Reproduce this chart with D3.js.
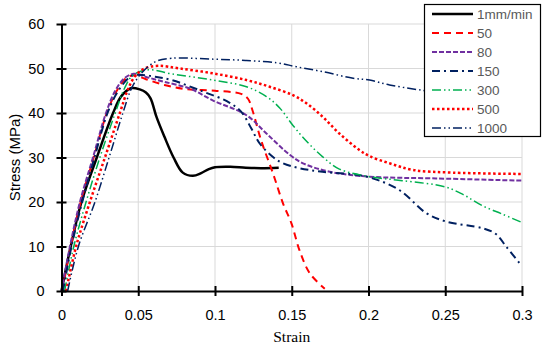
<!DOCTYPE html>
<html>
<head>
<meta charset="utf-8">
<script src="https://cdn.jsdelivr.net/npm/d3@7"></script>
<style>
  body { margin: 0; background: #fff; }
  svg { display: block; }
</style>
</head>
<body>
<svg id="chart" width="550" height="347"></svg>
<script>
// strain / stress pairs
const s1 = [[0,0],[0.006,10],[0.013,20],[0.023,30],[0.0336,40],[0.039,43.8],[0.0457,45.6],[0.051,45.3],[0.055,44.6],[0.058,43.3],[0.062,39],[0.067,34.7],[0.073,30],[0.079,26.6],[0.0856,25.9],[0.091,26.5],[0.096,27.4],[0.1,27.8],[0.11,27.9],[0.12,27.7],[0.13,27.6],[0.1415,27.7]];
const s50 = [[0.0005,0],[0.006,10],[0.0125,20],[0.021,30],[0.0295,40],[0.036,45],[0.042,47.8],[0.047,48.5],[0.055,47.6],[0.067,46.3],[0.08,45.4],[0.1,45],[0.117,44.3],[0.1215,43.2],[0.1245,40.5],[0.13,33.9],[0.1378,26.4],[0.1443,19.7],[0.1498,15.2],[0.155,9.2],[0.1617,4],[0.1715,0.5]];
const s80 = [[0,0],[0.0055,10],[0.012,20],[0.0205,30],[0.029,40],[0.035,45],[0.041,47.8],[0.047,48.8],[0.056,48],[0.067,47],[0.0836,45.5],[0.0988,42.8],[0.1205,39.5],[0.1335,35.4],[0.1487,30.6],[0.1573,28.7],[0.1747,26.8],[0.2007,25.7],[0.244,25.3],[0.3,24.8]];
const s150 = [[0.001,0],[0.0065,10],[0.0135,20],[0.0215,30],[0.03,40],[0.037,45],[0.045,48.2],[0.05,48.6],[0.06,48.2],[0.0717,47.4],[0.0923,44.8],[0.108,42.6],[0.117,40.3],[0.1237,36.5],[0.129,33.2],[0.1378,30.1],[0.1443,28.7],[0.155,27.6],[0.17,26.8],[0.1986,25.7],[0.22,22.7],[0.2376,17.5],[0.2506,15.6],[0.2744,14.1],[0.283,12.8],[0.2897,10],[0.2994,5.8]];
const s300 = [[0.002,0],[0.008,10],[0.016,20],[0.025,30],[0.035,40],[0.041,45.5],[0.0466,48.5],[0.0565,49.7],[0.0717,48.8],[0.0988,47.4],[0.1205,45.9],[0.1335,43.7],[0.142,41.2],[0.1508,37.2],[0.1595,33.7],[0.17,30.2],[0.181,27.4],[0.2007,25.7],[0.222,24.8],[0.25,23.4],[0.262,21.6],[0.274,19.2],[0.287,17.3],[0.3,15.4]];
const s500 = [[0.003,0],[0.0095,10],[0.0185,20],[0.0283,30],[0.038,40],[0.0435,45.5],[0.048,48.3],[0.054,50],[0.063,50.6],[0.0771,50],[0.0988,48.9],[0.1205,47.4],[0.1356,45.9],[0.1508,44],[0.1595,42.2],[0.17,39.2],[0.181,35.4],[0.194,31.7],[0.2007,30.3],[0.2137,28.7],[0.229,27.2],[0.255,26.6],[0.3,26.3]];
const s1000 = [[0.004,0],[0.011,10],[0.0218,20],[0.031,30],[0.04,40],[0.0457,45.6],[0.052,48.9],[0.061,51.5],[0.0717,52.3],[0.0988,52.1],[0.1205,51.8],[0.14,51.3],[0.153,50.4],[0.17,49.3],[0.19,47.8],[0.2007,47.4],[0.2137,46.3],[0.233,45.2],[0.26,44],[0.3,42.5]];

const seriesNames = ["1mm/min","50","80","150","300","500","1000"];
const seriesData = [s1, s50, s80, s150, s300, s500, s1000];
const xTicks = [0,0.05,0.1,0.15,0.2,0.25,0.3];
const yTicks = [0,10,20,30,40,50,60];

const styles = [
  {color:"#000000", w:2.5, dash:null},
  {color:"#FF0000", w:2, dash:"7,5"},
  {color:"#7030A0", w:2, dash:"5,2"},
  {color:"#002060", w:2, dash:"8,4,2,4"},
  {color:"#00B050", w:1.5, dash:"9,3,1.5,3,1.5,3"},
  {color:"#FF0000", w:2.5, dash:"2.5,2.5"},
  {color:"#002060", w:1.5, dash:"9,3,1.5,3,1.5,3"}
];

const svg = d3.select("#chart");
const x = d3.scaleLinear().domain([0,0.3]).range([61.5,522]);
const y = d3.scaleLinear().domain([0,60]).range([291,24]);

// grid
svg.append("g").selectAll("line").data(yTicks.slice(1)).enter().append("line")
  .attr("x1", x(0)).attr("x2", x(0.3))
  .attr("y1", d => y(d)).attr("y2", d => y(d))
  .attr("stroke", "#d9d9d9").attr("stroke-width", 1);
svg.append("g").selectAll("line").data(xTicks.slice(1)).enter().append("line")
  .attr("x1", d => x(d)).attr("x2", d => x(d))
  .attr("y1", y(0)).attr("y2", y(60))
  .attr("stroke", "#d9d9d9").attr("stroke-width", 1);

// curves
const line = d3.line().x(d => x(d[0])).y(d => y(d[1])).curve(d3.curveCatmullRom.alpha(0.5));
svg.append("g").selectAll("path").data(seriesData).enter().append("path")
  .attr("d", line)
  .attr("fill", "none")
  .attr("stroke", (d,i) => styles[i].color)
  .attr("stroke-width", (d,i) => styles[i].w)
  .attr("stroke-dasharray", (d,i) => styles[i].dash);

// axes
const yAxis = svg.append("g").attr("transform", `translate(${x(0)},0)`)
  .call(d3.axisLeft(y).tickValues(yTicks).tickSizeInner(5).tickSizeOuter(0).tickPadding(12));
const xAxis = svg.append("g").attr("transform", `translate(0,${y(0)})`)
  .call(d3.axisBottom(x).tickValues(xTicks).tickFormat(d3.format("")).tickSizeInner(5).tickSizeOuter(0).tickPadding(14));
[yAxis, xAxis].forEach(a => {
  a.select(".domain").attr("stroke", "#000").attr("stroke-width", 2);
  a.selectAll(".tick line").attr("stroke", "#000").attr("stroke-width", 2);
  a.selectAll(".tick text").attr("fill", "#000")
    .style("font-family", "'Liberation Sans', Arial, sans-serif").style("font-size", "14.5px");
});
// ticks cross the axis
yAxis.selectAll(".tick line").attr("x1", 5);
xAxis.selectAll(".tick line").attr("y1", -5);

// axis titles
svg.append("text")
  .attr("transform", `translate(20,${(y(0)+y(60))/2}) rotate(-90)`)
  .attr("text-anchor", "middle")
  .style("font-family", "'Liberation Sans', Arial, sans-serif").style("font-size", "15px")
  .text("Stress (MPa)");
svg.append("text")
  .attr("x", (x(0)+x(0.3))/2).attr("y", 342)
  .attr("text-anchor", "middle")
  .style("font-family", "'Liberation Serif', 'Times New Roman', serif").style("font-size", "15.5px")
  .text("Strain");

// legend
const lg = svg.append("g");
lg.append("rect").attr("x", 424.5).attr("y", 4.5).attr("width", 116).attr("height", 132)
  .attr("fill", "#fff").attr("stroke", "#000").attr("stroke-width", 1.2);
const items = lg.selectAll("g.item").data(seriesNames).enter().append("g")
  .attr("transform", (d,i) => `translate(0,${14 + i*19})`);
items.append("line").attr("x1", 432).attr("x2", 473).attr("y1", 0).attr("y2", 0)
  .attr("stroke", (d,i) => styles[i].color)
  .attr("stroke-width", (d,i) => styles[i].w)
  .attr("stroke-dasharray", (d,i) => styles[i].dash);
items.append("text").attr("x", 477).attr("y", 0).attr("dy", "0.35em")
  .attr("fill", "#595959")
  .style("font-family", "'Liberation Sans', Arial, sans-serif").style("font-size", "13.5px")
  .text(d => d);
</script>
</body>
</html>
